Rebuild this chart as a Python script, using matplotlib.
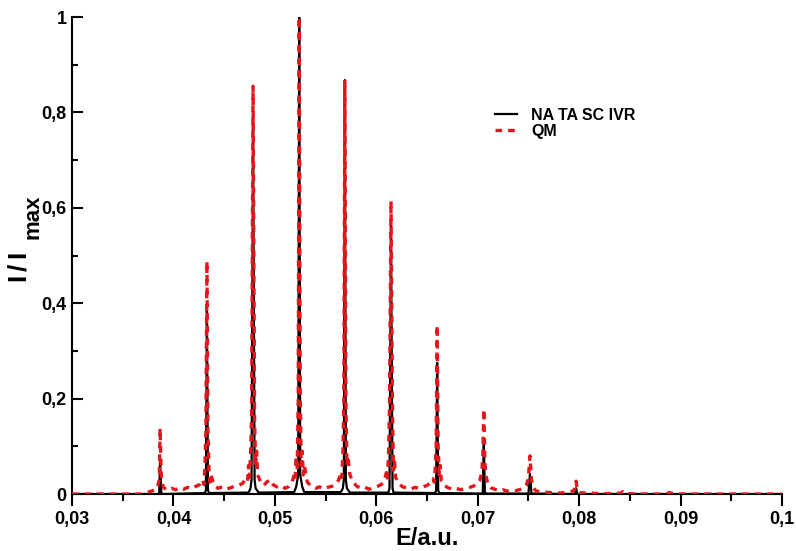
import numpy as np
import matplotlib.pyplot as plt
from matplotlib.ticker import MultipleLocator, FuncFormatter

plt.rcParams['font.family'] = 'Liberation Sans'
plt.rcParams['font.weight'] = 'bold'
plt.rcParams['mathtext.fontset'] = 'custom'
plt.rcParams['mathtext.rm'] = 'Liberation Sans:bold'
plt.rcParams['mathtext.bf'] = 'Liberation Sans:bold'

# NA TA SC IVR spectrum (black)
E_sc = [0.030, 0.0385, 0.0386, 0.03868, 0.0388, 0.0389,
        0.0431, 0.0432, 0.0433, 0.0434, 0.0435,
        0.0474, 0.0476, 0.0477, 0.04785, 0.0480, 0.0481, 0.0484,
        0.0519, 0.0521, 0.0523, 0.0524, 0.0525, 0.0527, 0.0529,
        0.0565, 0.0567, 0.0568, 0.0569, 0.0570, 0.0571, 0.0574,
        0.0612, 0.0613, 0.06145, 0.0616, 0.0617,
        0.0658, 0.0659, 0.0660, 0.0661, 0.0662,
        0.0704, 0.0705, 0.0706, 0.0707, 0.0708,
        0.0750, 0.07515, 0.0753,
        0.0796, 0.0797, 0.0798, 0.100]
I_sc = [0.0, 0.0, 0.003, 0.075, 0.003, 0.0,
        0.002, 0.008, 0.392, 0.008, 0.002,
        0.003, 0.012, 0.03, 0.79, 0.03, 0.012, 0.003,
        0.004, 0.015, 0.04, 1.0, 0.04, 0.015, 0.004,
        0.004, 0.012, 0.03, 0.868, 0.03, 0.012, 0.003,
        0.003, 0.012, 0.562, 0.012, 0.003,
        0.002, 0.008, 0.275, 0.008, 0.002,
        0.001, 0.004, 0.113, 0.004, 0.001,
        0.001, 0.042, 0.001,
        0.0, 0.012, 0.0, 0.0]

# QM spectrum (red dashed), noisy wings included
E_qm = [0.030, 0.0370, 0.0374, 0.0378, 0.0381, 0.0384, 0.0386, 0.03868, 0.0388, 0.0390,
        0.0394, 0.0398, 0.0402, 0.0406, 0.0410, 0.0414, 0.0418, 0.0422, 0.0426,
        0.0429, 0.0430, 0.0431, 0.0432, 0.0433, 0.0434, 0.0435, 0.0436, 0.0437, 0.0440,
        0.0444, 0.0448, 0.0452, 0.0456, 0.0460, 0.0464, 0.0468, 0.0471,
        0.0473, 0.0474, 0.0475, 0.0476, 0.0477, 0.04785, 0.0480, 0.0481, 0.0482, 0.0483, 0.0486,
        0.0489, 0.0492, 0.0495, 0.0498, 0.0502, 0.0506, 0.0510, 0.0514, 0.0517,
        0.0519, 0.0520, 0.0521, 0.0522, 0.0523, 0.0524, 0.0525, 0.0526, 0.0527, 0.0528, 0.0529, 0.0532,
        0.0536, 0.0540, 0.0544, 0.0548, 0.0552, 0.0556, 0.0560, 0.0563,
        0.0565, 0.0566, 0.0567, 0.0568, 0.0569, 0.0570, 0.0571, 0.0572, 0.0574, 0.0577,
        0.0581, 0.0585, 0.0589, 0.0593, 0.0597, 0.0601, 0.0605, 0.0608,
        0.0610, 0.0611, 0.0612, 0.0613, 0.06145, 0.0616, 0.0617, 0.0618, 0.0619, 0.0622,
        0.0626, 0.0630, 0.0634, 0.0638, 0.0642, 0.0646, 0.0650, 0.0654,
        0.0656, 0.0657, 0.0658, 0.0659, 0.0660, 0.0661, 0.0662, 0.0663, 0.0664, 0.0667,
        0.0671, 0.0675, 0.0679, 0.0683, 0.0687, 0.0691, 0.0695, 0.0699,
        0.0702, 0.0704, 0.0705, 0.0706, 0.0707, 0.0708, 0.0710, 0.0713,
        0.0717, 0.0721, 0.0725, 0.0729, 0.0733, 0.0737, 0.0741, 0.0745,
        0.0748, 0.0750, 0.07515, 0.0753, 0.0755, 0.0758,
        0.0765, 0.0772, 0.0780, 0.0788, 0.0794, 0.0796, 0.0797, 0.0798, 0.0800,
        0.0808, 0.0820, 0.0835, 0.0841, 0.0843, 0.0845, 0.0860, 0.0880, 0.0887,
        0.0889, 0.0895, 0.100]
I_qm = [0.0, 0.0, 0.003, 0.006, 0.008, 0.012, 0.03, 0.138, 0.035, 0.014,
        0.008, 0.012, 0.009, 0.013, 0.010, 0.014, 0.011, 0.016, 0.020,
        0.030, 0.020, 0.055, 0.14, 0.488, 0.13, 0.05, 0.025, 0.04, 0.018,
        0.012, 0.015, 0.010, 0.013, 0.016, 0.018, 0.022, 0.030,
        0.025, 0.06, 0.035, 0.08, 0.16, 0.855, 0.16, 0.06, 0.09, 0.04, 0.025,
        0.018, 0.025, 0.030, 0.020, 0.015, 0.018, 0.012, 0.016, 0.025,
        0.040, 0.03, 0.08, 0.05, 0.20, 1.0, 0.20, 0.06, 0.09, 0.04, 0.060, 0.025,
        0.016, 0.012, 0.015, 0.011, 0.014, 0.016, 0.020, 0.030,
        0.045, 0.035, 0.08, 0.20, 0.868, 0.20, 0.06, 0.08, 0.040, 0.025,
        0.016, 0.012, 0.014, 0.010, 0.013, 0.016, 0.020, 0.030,
        0.045, 0.03, 0.08, 0.18, 0.614, 0.16, 0.05, 0.07, 0.035, 0.022,
        0.015, 0.013, 0.010, 0.014, 0.012, 0.015, 0.018, 0.024,
        0.032, 0.025, 0.05, 0.10, 0.354, 0.10, 0.04, 0.06, 0.028, 0.018,
        0.013, 0.010, 0.012, 0.009, 0.011, 0.013, 0.016, 0.020,
        0.028, 0.045, 0.08, 0.178, 0.07, 0.04, 0.020, 0.013,
        0.010, 0.007, 0.009, 0.006, 0.008, 0.007, 0.009, 0.012,
        0.018, 0.035, 0.080, 0.030, 0.012, 0.006,
        0.004, 0.003, 0.002, 0.003, 0.006, 0.012, 0.027, 0.010, 0.003,
        0.002, 0.001, 0.001, 0.002, 0.005, 0.001, 0.0, 0.0, 0.001,
        0.003, 0.0, 0.0]

x_ticks = [0.03, 0.04, 0.05, 0.06, 0.07, 0.08, 0.09, 0.1]
y_ticks = [0, 0.2, 0.4, 0.6, 0.8, 1.0]

fig = plt.figure(figsize=(7.96, 5.51), dpi=100)
ax = fig.add_axes([0.0905, 0.1034, 0.8919, 0.8656])

ax.plot(E_sc, I_sc, color='black', lw=1.6, label='NA TA SC IVR', zorder=2)
ax.plot(E_qm, I_qm, color='#e3161b', lw=2.4, linestyle=(0, (2.0, 1.8)), label='QM', zorder=3)

ax.set_xlim(0.03, 0.1)
ax.set_ylim(0, 1)
ax.set_xticks(x_ticks)
ax.set_yticks(y_ticks)
ax.xaxis.set_minor_locator(MultipleLocator(0.005))
ax.yaxis.set_minor_locator(MultipleLocator(0.1))

fmt = FuncFormatter(lambda v, p: ('%g' % round(v, 4)).replace('.', ','))
ax.xaxis.set_major_formatter(fmt)
ax.yaxis.set_major_formatter(fmt)

ax.spines['top'].set_visible(False)
ax.spines['right'].set_visible(False)
ax.spines['left'].set_linewidth(1.5)
ax.spines['bottom'].set_linewidth(1.5)
ax.tick_params(axis='x', which='major', direction='out', length=8.5, width=1.5, labelsize=13, pad=4)
ax.tick_params(axis='x', which='minor', direction='out', length=5, width=1.5)
ax.tick_params(axis='y', which='major', direction='in', length=8, width=1.5, labelsize=13, pad=4)
ax.tick_params(axis='y', which='minor', direction='in', length=4.5, width=1.5)
for lab in ax.get_xticklabels() + ax.get_yticklabels():
    lab.set_fontweight('bold')

ax.set_xlabel('E/a.u.', fontsize=17, fontweight='bold', labelpad=-1)

# y label: "I/I" with a large "max" subscript, as in the original
fig.text(0.010, (551 - 283) / 551, r'$\mathbf{I\,/\,I}$', rotation=90, fontsize=19,
         ha='left', va='bottom')
fig.text(0.028, (551 - 239) / 551, 'max', rotation=90, fontsize=16, fontweight='bold',
         ha='left', va='bottom')

leg = ax.legend(loc='upper left', bbox_to_anchor=(0.575, 0.84), frameon=False,
                prop={'weight': 'bold', 'size': 11.5}, handlelength=1.4, handletextpad=0.9,
                labelspacing=0.05)

fig.savefig('out.png', dpi=100)
